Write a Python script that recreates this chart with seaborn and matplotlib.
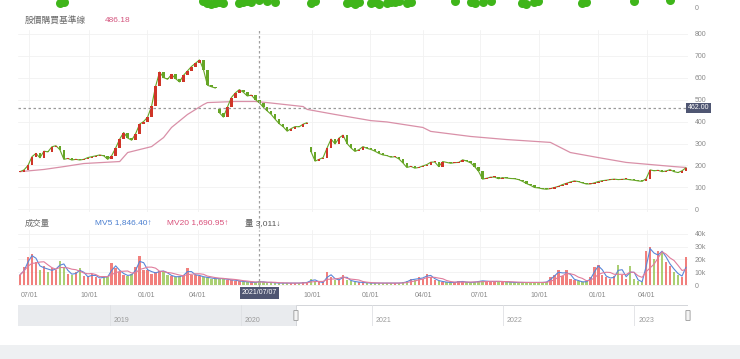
import numpy as np
import pandas as pd
import matplotlib
matplotlib.use("Agg")
import matplotlib.pyplot as plt
import matplotlib.transforms as mtransforms
from matplotlib.patches import Rectangle, FancyBboxPatch
import seaborn as sns

# closing price per bar (each bar ~ 4 trading days), 2020/06 -> 2023/06
close = [172, 180, 200, 240, 255, 235, 265, 262, 285, 290,
         272, 228, 232, 225, 228, 225, 228, 236, 240, 244,
         248, 244, 228, 245, 280, 320, 350, 325, 315, 345,
         388, 400, 420, 470, 560, 625, 600, 592, 614, 595,
         580, 610, 630, 650, 665, 680, 636, 565, 558, 552,
         440, 420, 465, 509, 530, 545, 533, 516, 520, 500,
         486, 465, 448, 432, 410, 390, 376, 356, 368, 377,
         376, 388, 395, 262, 220, 228, 236, 280, 320, 298,
         325, 338, 300, 280, 264, 272, 286, 278, 273, 265,
         255, 248, 245, 238, 240, 230, 212, 191, 196, 188,
         191, 198, 204, 215, 216, 195, 218, 214, 210, 213,
         214, 226, 220, 212, 195, 173, 138, 142, 147, 147,
         140, 145, 143, 141, 140, 136, 128, 118, 110, 100,
         98, 94, 92, 95, 100, 105, 113, 119, 125, 130,
         127, 121, 116, 116, 121, 127, 131, 133, 136, 138,
         136, 137, 138, 135, 133, 130, 128, 140, 180, 176,
         178, 172, 175, 181, 172, 168, 176, 190]

# price gaps (ex-rights days): bar index and its opening price
gap_days = [50, 73]
gap_open = [455, 282]

# volume per bar, thousands of lots
volume_k = [8, 14, 22, 24, 18, 12, 15, 10, 13, 12,
            19, 14, 9, 8, 10, 13, 7, 6, 9, 6,
            5, 7, 6, 17, 13, 10, 8, 7, 9, 14,
            23, 12, 12, 9, 10, 11, 11, 8, 7, 6,
            7, 8, 13, 8, 8, 7, 6, 6, 5, 5,
            5, 5, 4, 4, 3.5, 3, 2.5, 2.5, 2, 2,
            3, 2, 2, 2, 1.5, 1.5, 1.5, 1.5, 1.5, 1.5,
            1.5, 2, 2, 5, 3, 2, 2, 10, 6, 4,
            4, 8, 4, 3, 2.5, 2, 2, 1.5, 1.5, 1.5,
            1.5, 1.5, 1.5, 1.5, 1.5, 1.5, 2, 3, 5, 4,
            6, 5, 9, 6, 4, 3, 2.5, 2, 2, 2,
            3, 2.5, 2, 2, 2.5, 3, 3.5, 2.5, 3, 2.5,
            3, 2.5, 2.5, 2, 2, 2, 2, 2, 2, 2,
            2, 2, 2.5, 6, 8, 12, 7, 12, 5, 4,
            3, 2, 3, 6, 14, 16, 8, 6, 5, 7,
            16, 8, 5, 15, 5, 3, 2, 27, 30, 20,
            27, 26, 18, 15, 10, 8, 6, 22]

# long moving average (baseline), read at a few bars
ma_day = [0, 6, 11, 16, 25, 27, 33, 36, 38, 42, 46, 47, 54, 59, 62,
          71, 72, 79, 88, 92, 101, 103, 113, 122, 133, 138, 145, 152, 164, 167]
ma_value = [172, 182, 195, 209, 218, 259, 286, 327, 373, 432, 477, 486, 491, 491, 486,
            468, 455, 432, 404, 398, 373, 355, 332, 318, 305, 259, 236, 214, 195, 191]

baseline = 462
cross_day = 60
cross_date = "2021/07/07"
tick_day = [2.3, 17.3, 31.8, 44.6, 73.2, 87.8, 101.1, 115.3, 130.1, 144.9, 157.2]
tick_label = ["07/01", "10/01", "01/01", "04/01", "10/01", "01/01",
              "04/01", "07/01", "10/01", "01/01", "04/01"]

# bits of the panel above that peek in at the top edge
upper_day = [10, 11, 46, 47, 48, 49, 50, 51, 55, 56, 57, 58, 60, 62, 64, 73, 74, 82, 83, 84, 85,
             88, 89, 90, 92, 93, 94, 95, 97, 98, 109, 113, 114, 116, 118, 126, 127, 129,
             130, 141, 142, 154, 163]
upper_val = [5, 6, 7, 5, 4, 5, 6, 5, 5, 6, 7, 6, 8, 7, 6, 5, 7, 5, 6, 4, 6,
             5, 6, 4, 5, 6, 6, 7, 5, 6, 7, 6, 5, 6, 7, 5, 4, 6,
             7, 5, 6, 7, 8]

# navigator years
nav_years = [2019, 2020, 2021, 2022, 2023]
nav_start, nav_end = 2018.30, 2023.41
sel_start = 2020.42

sns.set_theme(style="white")
plt.rcParams["font.family"] = ["Liberation Sans", "Noto Sans CJK TC", "DejaVu Sans"]

W, H = 740, 359
fig = plt.figure(figsize=(W / 100, H / 100), dpi=100)


def box(x0, y0, x1, y1):
    return fig.add_axes([x0 / W, 1 - y1 / H, (x1 - x0) / W, (y1 - y0) / H])


def ftext(x, y, s, **kw):
    fig.text(x / W, 1 - y / H, s, va="center", **kw)


def clean(a):
    a.set_xlabel("")
    a.set_ylabel("")
    for s in a.spines.values():
        s.set_visible(False)


n = len(close)
days = np.arange(n)
c = np.array(close, dtype=float)
o = np.r_[c[0], c[:-1]]
for d, g in zip(gap_days, gap_open):
    o[d] = g
up = c >= o

UP, DOWN = "#cf3528", "#66a526"
tick_col = "#8a8a8a"
grid_col = "#f1f1f1"

# ---- price panel
ax = box(18, 30, 688, 212)
ax.set_xlim(-0.5, n - 0.5)
ax.set_ylim(-11.4, 816)
# thin trace of closes so the bars read as one series (broken at the gaps)
seg = np.split(days, gap_days)
for s_ in seg:
    ax.plot(s_, c[s_], color=DOWN, lw=0.8, zorder=2.5)
body = np.maximum(np.abs(c - o), 4)
ax.bar(days, body, bottom=np.minimum(o, c), width=0.62,
       color=[UP if u else DOWN for u in up], linewidth=0, zorder=3)
sns.lineplot(x=ma_day, y=ma_value, ax=ax, color="#d990a8", linewidth=0.9, zorder=2)
ax.axhline(baseline, color="#9a9a9a", lw=0.9, ls=(0, (2, 2)), zorder=4)
ax.axvline(cross_day, ymin=-(288 - 212) / 182, ymax=1.0, color="#a0a0a0",
           lw=0.9, ls=(0, (2, 2)), clip_on=False, zorder=5)
ax.set_yticks([0, 100, 200, 300, 400, 500, 600, 700, 800])
ax.set_xticks(tick_day)
ax.set_xticklabels([])
ax.grid(True, color=grid_col, lw=0.6)
ax.yaxis.tick_right()
ax.tick_params(axis="y", length=0, pad=5, labelsize=5, labelcolor=tick_col)
ax.tick_params(axis="x", length=0)
clean(ax)
ax.text(1.0, baseline, f"{baseline:.2f}", transform=mtransforms.blended_transform_factory(ax.transAxes, ax.transData),
        ha="left", va="center", color="white", fontsize=5, zorder=10,
        bbox=dict(boxstyle="square,pad=0.25", fc="#4f5672", ec="none"))

# ---- volume panel
av = box(18, 230, 688, 286)
av.set_xlim(-0.5, n - 0.5)
av.set_ylim(-0.78, 43.1)
av.bar(days, volume_k, width=0.62, color=["#ef6a66" if u else "#9cc75a" for u in up],
       alpha=0.85, linewidth=0, zorder=2)
vol = pd.Series(volume_k, dtype=float)
# MV5 / MV20 in trading days -> bars of 4 days
sns.lineplot(x=days, y=vol.rolling(2, min_periods=1).mean(), ax=av,
             color="#5a86d8", linewidth=0.8, zorder=3)
sns.lineplot(x=days, y=vol.rolling(5, min_periods=1).mean(), ax=av,
             color="#e07c9c", linewidth=0.8, zorder=3)
av.axvline(cross_day, color="#a0a0a0", lw=0.9, ls=(0, (2, 2)), zorder=5)
av.set_yticks([0, 10, 20, 30, 40])
av.set_yticklabels(["0", "10k", "20k", "30k", "40k"])
av.set_xticks(tick_day)
av.set_xticklabels(tick_label)
av.grid(True, color=grid_col, lw=0.6)
av.yaxis.tick_right()
av.tick_params(axis="y", length=0, pad=5, labelsize=5, labelcolor=tick_col)
av.tick_params(axis="x", length=0, pad=4, labelsize=5, labelcolor=tick_col)
clean(av)
av.text(cross_day, -0.125, cross_date, transform=mtransforms.blended_transform_factory(av.transData, av.transAxes),
        ha="center", va="center", color="white", fontsize=5, zorder=10,
        bbox=dict(boxstyle="square,pad=0.3", fc="#4f5672", ec="none"))

# ---- clipped top strip
at = box(18, -12, 688, 8)
at.set_xlim(-0.5, n - 0.5)
at.set_ylim(0, 20)
at.scatter(upper_day, upper_val, s=42, color="#3fb51a", linewidths=0, zorder=3)
at.set_yticks([0])
at.set_xticks([])
at.yaxis.tick_right()
at.tick_params(axis="y", length=0, pad=5, labelsize=5, labelcolor=tick_col)
clean(at)

# ---- navigator
an = box(18, 305, 688, 326)
an.set_xlim(nav_start, nav_end)
an.set_ylim(0, 1)
an.axvspan(nav_start, sel_start, color="#e9ebee", lw=0)
an.add_patch(Rectangle((sel_start, 0), nav_end - sel_start, 1, fc="none", ec="#d3d5d9", lw=0.7))
for yr in nav_years:
    an.axvline(yr, color="#dfe1e4", lw=0.6)
    an.text(yr + 0.03, 0.25, str(yr), fontsize=5, color="#9a9a9a", va="center")
for hx in [sel_start, nav_end]:
    an.add_patch(FancyBboxPatch((hx - 0.012, 0.27), 0.024, 0.46, boxstyle="round,pad=0.004",
                                fc="#f4f4f4", ec="#9a9a9a", lw=0.6, clip_on=False, zorder=5))
an.set_xticks([])
an.set_yticks([])
clean(an)

# ---- headers
ftext(25, 20, "股價購買基準線", fontsize=6.3, color="#6a6a6a", family=["Noto Sans CJK TC"])
ftext(105, 20, "486.18", fontsize=6, color="#d4567f")
ftext(25, 223, "成交量", fontsize=6, color="#6a6a6a", family=["Noto Sans CJK TC"])
ftext(95, 223, "MV5 1,846.40↑", fontsize=6, color="#4a7fd0")
ftext(167, 223, "MV20 1,690.95↑", fontsize=6, color="#d9507a")
ftext(245, 223, "量 3,011↓", fontsize=6, color="#555555")

# footer band
fig.patches.append(Rectangle((0, 0), 1, 14 / H, transform=fig.transFigure,
                             fc="#eef0f2", ec="none"))

fig.savefig("out.png", dpi=100)
